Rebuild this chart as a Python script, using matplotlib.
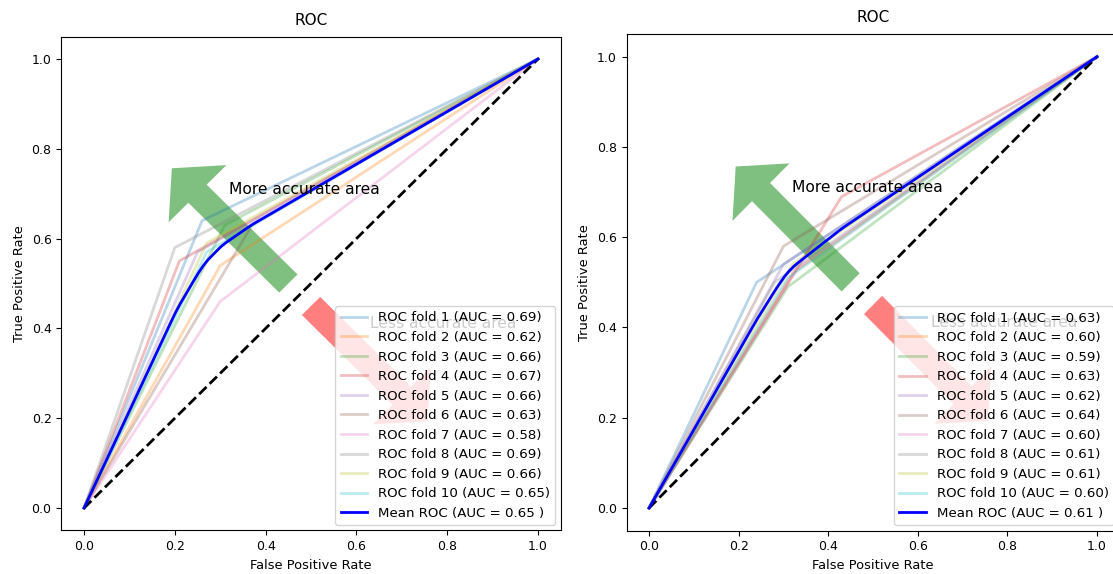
import numpy as np
import matplotlib
matplotlib.use("Agg")
import matplotlib.pyplot as plt

plt.rcParams['font.size'] = 9
plt.rcParams['font.family'] = ['DejaVu Sans']

# Left panel: one operating point per fold (binary classifier ROC)
left_fpr = [0.26, 0.30, 0.31, 0.21, 0.25, 0.37, 0.30, 0.20, 0.27, 0.27]
left_tpr = [0.64, 0.54, 0.63, 0.55, 0.57, 0.63, 0.46, 0.58, 0.59, 0.57]
left_auc = [0.69, 0.62, 0.66, 0.67, 0.66, 0.63, 0.58, 0.69, 0.66, 0.65]
left_mean_auc = 0.65

# Right panel
right_fpr = [0.24, 0.32, 0.31, 0.43, 0.30, 0.30, 0.33, 0.28, 0.32, 0.31]
right_tpr = [0.50, 0.52, 0.49, 0.69, 0.54, 0.58, 0.53, 0.50, 0.54, 0.51]
right_auc = [0.63, 0.60, 0.59, 0.63, 0.62, 0.64, 0.60, 0.61, 0.61, 0.60]
right_mean_auc = 0.61

fold_colors = ['#1f77b4', '#ff7f0e', '#2ca02c', '#d62728', '#9467bd',
               '#8c564b', '#e377c2', '#7f7f7f', '#bcbd22', '#17becf']

fig = plt.figure(figsize=(11.13, 5.74), dpi=100)
ax1 = fig.add_axes([0.0551, 0.0758, 0.4487, 0.8606])
ax2 = fig.add_axes([0.5630, 0.0756, 0.4428, 0.8650])


def draw(ax, fprs, tprs, aucs, mean_auc):
    mean_fpr = np.linspace(0, 1, 100)
    interp_tprs = []
    for i, (f, t, a) in enumerate(zip(fprs, tprs, aucs)):
        xs = [0.0, f, 1.0]
        ys = [0.0, t, 1.0]
        ax.plot(xs, ys, lw=2, alpha=0.3, color=fold_colors[i],
                label='ROC fold %d (AUC = %0.2f)' % (i + 1, a))
        it = np.interp(mean_fpr, xs, ys)
        it[0] = 0.0
        interp_tprs.append(it)
    ax.plot([0, 1], [0, 1], linestyle='--', lw=2, color='black')
    mean_tpr = np.mean(interp_tprs, axis=0)
    mean_tpr[-1] = 1.0
    ax.plot(mean_fpr, mean_tpr, color='blue', lw=2,
            label='Mean ROC (AUC = %0.2f )' % mean_auc)
    ax.arrow(0.45, 0.5, -0.2, 0.2, width=0.057, head_width=0.18,
             head_length=0.08, color='green', alpha=0.5, lw=0)
    ax.text(0.32, 0.70, 'More accurate area', fontsize=11.2)
    ax.arrow(0.5, 0.45, 0.2, -0.2, width=0.057, head_width=0.18,
             head_length=0.08, color='red', alpha=0.5, lw=0)
    ax.text(0.63, 0.40, 'Less accurate area', fontsize=11.2)
    ax.set_xlim(-0.05, 1.05)
    ax.set_ylim(-0.05, 1.05)
    ax.set_xlabel('False Positive Rate', fontsize=9.4)
    ax.set_ylabel('True Positive Rate', fontsize=9.4)
    ax.set_title('ROC', fontsize=11, pad=8.5)
    ax.legend(loc='lower right', fontsize=9.6, labelspacing=0.49,
              borderaxespad=0.4)


draw(ax1, left_fpr, left_tpr, left_auc, left_mean_auc)
draw(ax2, right_fpr, right_tpr, right_auc, right_mean_auc)

fig.savefig('out.png', dpi=100)
